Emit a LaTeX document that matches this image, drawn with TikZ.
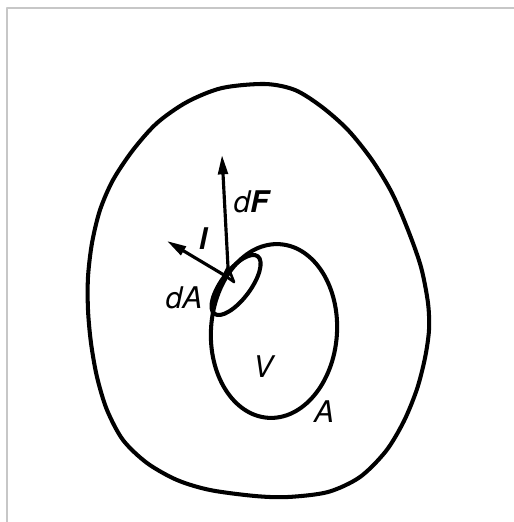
\documentclass[tikz,border=0pt]{standalone}
\usepackage{fontspec}
\setmainfont{TeX Gyre Heros}
\usepackage{tikz}
\usetikzlibrary{arrows.meta}

\begin{document}
\begin{tikzpicture}[x=0.02cm, y=-0.02cm, line join=round,
    font=\fontsize{17}{19}\selectfont\itshape,
    body/.style={line width=2.3pt},
    vec/.style={line width=1.8pt, -{Triangle[length=11pt, width=5.5pt]}}]

    % picture frame, image pixels, y pointing down
    \useasboundingbox (0,0) rectangle (514,522);
    \draw[black!22, line width=0.6pt] (7,522) -- (7,8) -- (514,8);

    % centres of the two inner surfaces and the area element
    \coordinate (V) at (274,331);
    \coordinate (dA) at (236,285);

    % small triangle at the base of the vectors
    \coordinate (T1) at (228,267);
    \coordinate (T2) at (224,275);
    \coordinate (T3) at (234,282);

    % tips of the vectors
    \coordinate (Ftip) at (222,155);
    \coordinate (ltip) at (167,241);

    % Outer body
    \draw[body] plot[smooth cycle, tension=0.5] coordinates {
        (265,84) (295,90) (322,107) (348,130) (372,160) (392,193)
        (408,230) (421,267) (428,303) (429,330) (425,358) (417,389)
        (404,421) (386,451) (360,477) (328,492) (288,497) (255,496)
        (210,490) (177,480) (147,463) (123,440) (107,410) (97,377)
        (91,343) (88,310) (88,277) (92,243) (100,210) (113,180)
        (133,150) (157,123) (187,102) (222,88)};

    % Volume V with its surface A
    \draw[body, rotate around={-4:(V)}] (V) ellipse (63 and 87);

    % area element dA
    \draw[body, rotate around={53:(dA)}] (dA) ellipse (36 and 14.5);

    % vectors dF and l
    \draw[line width=1.5pt] (T1) -- (T2) -- (T3) -- cycle;
    \draw[vec] (T1) -- (Ftip);
    \draw[vec] (T2) -- (ltip);

    % Labels
    \node (lF) at (251,202) {d\textbf{F}};
    \node (ll) at (203,239) {\textbf{l}};
    \node (lA1) at (184,298) {dA};
    \node (lV) at (263,367) {V};
    \node (lA2) at (324,412) {A};

\end{tikzpicture}
\end{document}
